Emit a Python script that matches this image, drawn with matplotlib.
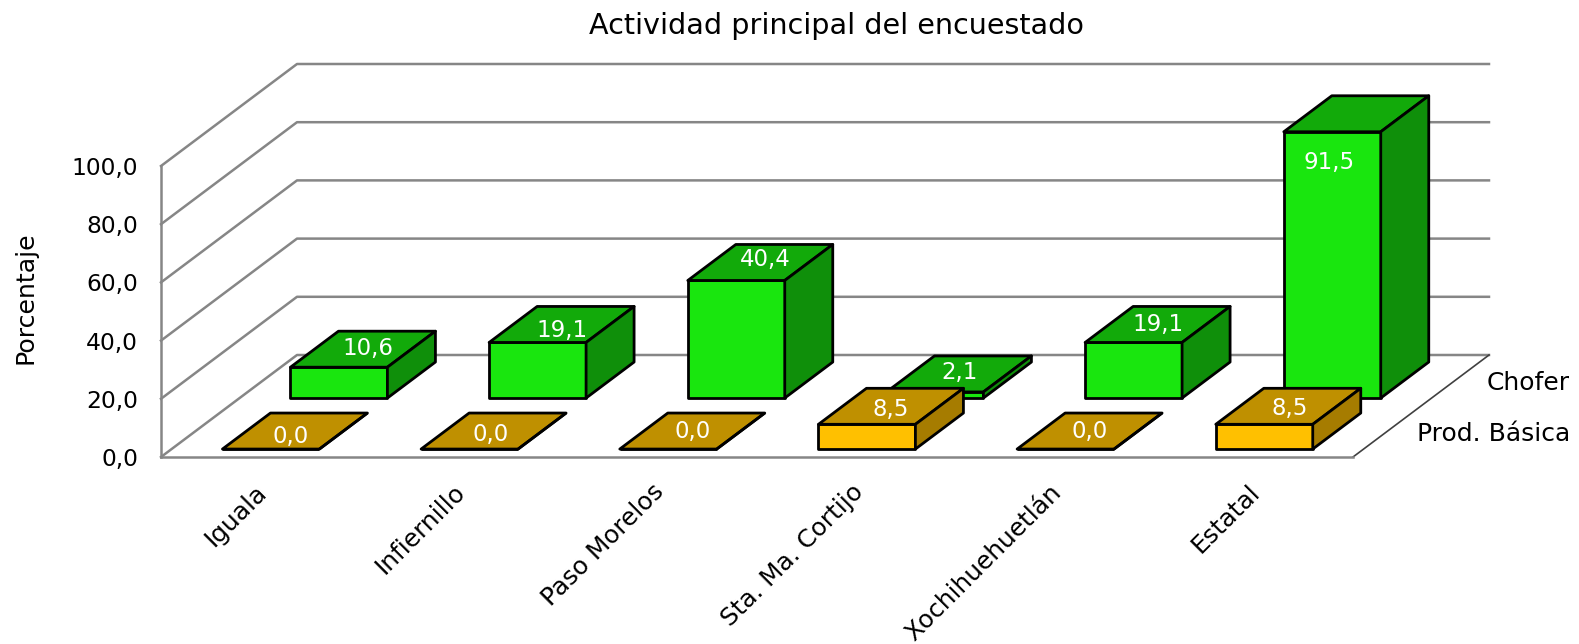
import matplotlib
matplotlib.use('Agg')
import matplotlib.pyplot as plt
from matplotlib.patches import Polygon
from matplotlib.transforms import ScaledTranslation

categories = ['Iguala', 'Infiernillo', 'Paso Morelos', 'Sta. Ma. Cortijo', 'Xochihuehuetlán', 'Estatal']
chofer = [10.6, 19.1, 40.4, 2.1, 19.1, 91.5]
prod_basica = [0.0, 0.0, 0.0, 8.5, 0.0, 8.5]
series_names = ['Prod. Básica', 'Chofer']
y_ticks = [0, 20, 40, 60, 80, 100]
title = 'Actividad principal del encuestado'
y_label = 'Porcentaje'

W, H = 1579, 644
BAR_W = 0.488
BAR_D = 0.353
DX = 136 / 198.67   # shift in x units for full floor depth
DY = 102 / 2.91     # shift in y units for full floor depth
FONT = 'DejaVu Sans'

# nudges of the value labels in pixels, the original chart places them by hand
chofer_nudge = [(5, 1), (0, -6), (5, 3), (1, 1), (0, 0), (-3, 0)]
prod_nudge = [(-4, -5), (-3, -3), (0, 0), (0, -3), (0, 0), (1, -2)]


def project(x, d, v):
    # oblique projection of (category, depth, value) onto the axes
    return x + d * DX, v + d * DY


def draw_bar(ax, i, row, v, colors):
    x0 = i + 0.5 - BAR_W / 2
    x1 = x0 + BAR_W
    d0 = row / 2 + 0.078
    d1 = d0 + BAR_D
    front = [project(x0, d0, 0), project(x1, d0, 0), project(x1, d0, v), project(x0, d0, v)]
    top = [project(x0, d0, v), project(x1, d0, v), project(x1, d1, v), project(x0, d1, v)]
    side = [project(x1, d0, 0), project(x1, d1, 0), project(x1, d1, v), project(x1, d0, v)]
    for pts, c in zip([front, top, side], colors):
        ax.add_patch(Polygon(pts, closed=True, facecolor=c, edgecolor='black', linewidth=2.0,
                             joinstyle='round', clip_on=False, zorder=3))
    return project(i + 0.5, (d0 + d1) / 2, v)


fig = plt.figure(figsize=(W / 100, H / 100), dpi=100, facecolor='white')
ax = fig.add_axes([161 / W, (H - 457) / H, 1192 / W, 291 / H])
ax.set_xlim(0, 6)
ax.set_ylim(0, 100)
ax.patch.set_visible(False)

# walls and floor
for v in y_ticks:
    xs, ys = zip(project(0, 0, v), project(0, 1, v), project(6, 1, v))
    ax.plot(xs, ys, color='#868686', lw=1.8, clip_on=False, zorder=1)
xs, ys = zip(project(6, 0, 0), project(6, 1, 0))
ax.plot(xs, ys, color='#404040', lw=1.2, clip_on=False, zorder=1)

for s in ['top', 'right']:
    ax.spines[s].set_visible(False)
for s in ['left', 'bottom']:
    ax.spines[s].set_color('#868686')
    ax.spines[s].set_linewidth(1.8)

ax.set_yticks(y_ticks)
ax.set_yticklabels([f'{v:.1f}'.replace('.', ',') for v in y_ticks], fontsize=16.8, family=FONT)
ax.tick_params(axis='y', length=0, pad=16.5)
ax.set_xticks([i + 0.5 for i in range(len(categories))])
ax.set_xticklabels(categories, fontsize=17.8, family=FONT, rotation=45, ha='right',
                   va='center', rotation_mode='anchor')
ax.tick_params(axis='x', length=0, pad=22.5)
for lab in ax.get_xticklabels():
    lab.set_transform(lab.get_transform() + ScaledTranslation(0.03, 0, fig.dpi_scale_trans))

# back row first so the front row covers it
green = ['#19E60E', '#12AA0A', '#0F8F0A']
gold = ['#FFC000', '#BF9000', '#A67C00']
for row, values, nudges, colors in [(1, chofer, chofer_nudge, green), (0, prod_basica, prod_nudge, gold)]:
    for i, v in enumerate(values):
        lx, ly = draw_bar(ax, i, row, v, colors)
        if v > 60:
            # tall bar keeps its label inside the front face
            lx, ly = project(i + 0.5, row / 2 + 0.078, v - 10.5)
        ax.annotate(f'{v:.1f}'.replace('.', ','), (lx, ly), xytext=nudges[i], textcoords='offset pixels',
                    color='white', fontsize=16.5, family=FONT, ha='center', va='center',
                    annotation_clip=False, zorder=5)

for row, name in enumerate(series_names):
    tx, ty = project(6.0, row / 2 + 0.25, 0)
    ax.text(1.182, ty - 1, name, fontsize=18, family=FONT, ha='right', va='center',
            transform=ax.get_yaxis_transform(), clip_on=False)

fig.text(836 / W, 1 - 26 / H, title, fontsize=20.6, family=FONT, ha='center', va='center')
fig.text(25 / W, 1 - 298 / H, y_label, fontsize=18.2, family=FONT, rotation=90, ha='center', va='center')

fig.savefig('out.png', dpi=100)
